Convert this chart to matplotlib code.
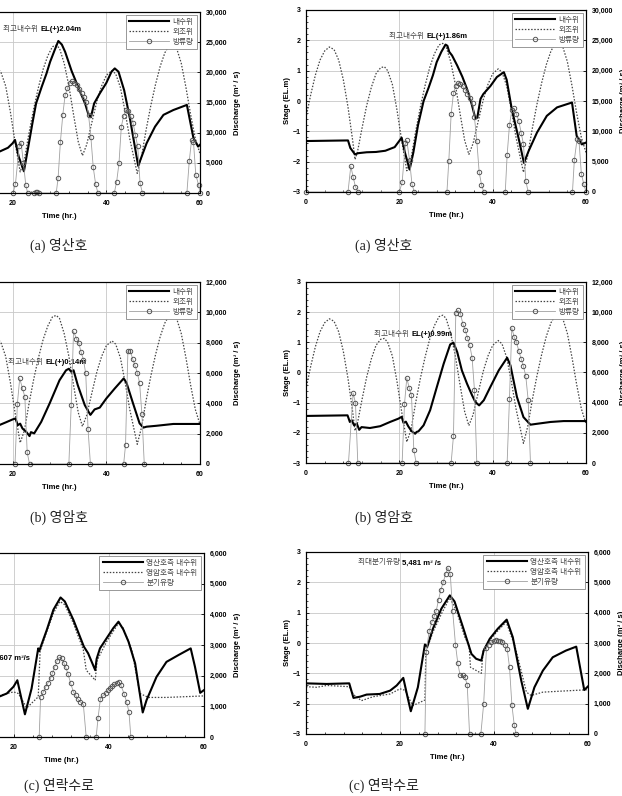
import matplotlib
matplotlib.use("Agg")
import matplotlib.pyplot as plt
from matplotlib.lines import Line2D
from matplotlib.ticker import MultipleLocator, StrMethodFormatter

plt.rcParams['font.family'] = ['Liberation Sans', 'Noto Sans CJK KR']

W, H = 622, 796

# outer tide (외조위), shared by the (a) and (b) panels
tide_hr = [0, 1, 2, 3, 4, 5, 6, 7, 8, 9, 10, 10.5, 11, 12, 13, 14, 15, 16, 16.8, 17.5,
           18.5, 19.5, 20.5, 21.6, 22.5, 23.5, 24.5, 25.5, 26.5, 27.5, 28.5, 29.3, 30, 31,
           32, 33, 34, 34.9, 35.8, 37, 38, 39, 40, 41.2, 42, 43, 44, 45, 46.6, 47.5, 48.5,
           49.5, 50.5, 51.5, 52.5, 53.5, 54.3, 55, 56, 57, 58, 59, 60]
tide_el = [-0.55, 0.2, 0.85, 1.35, 1.65, 1.78, 1.7, 1.35, 0.7, -0.2, -1.3, -1.93, -1.7, -0.9,
           -0.15, 0.45, 0.9, 1.1, 1.13, 1.0, 0.55, -0.3, -1.3, -2.3, -1.9, -1.0, -0.2, 0.5,
           1.1, 1.55, 1.85, 1.9, 1.8, 1.3, 0.55, -0.4, -1.3, -1.76, -1.4, -0.6, 0.05, 0.55,
           0.9, 1.06, 0.95, 0.5, -0.3, -1.2, -2.35, -1.8, -0.9, -0.1, 0.6, 1.2, 1.65, 1.92,
           1.95, 1.8, 1.3, 0.5, -0.4, -1.2, -1.7]

# (a) 영산호 - right column
ra_hr = [0, 9, 9.5, 10.5, 11.2, 13, 15, 17, 19, 20.5, 21.2, 22.2, 23, 24, 25.2, 26.3, 27.2, 28,
         29, 29.9, 30.3, 30.7, 31.3, 32.4, 33.5, 34.5, 35.5, 36.3, 36.7, 37.4, 38, 39.5, 40.9,
         42.4, 43, 44.1, 45.6, 46.7, 47.7, 49.5, 51.6, 53.8, 56.6, 57, 58, 59.1, 60]
ra_el = [-1.32, -1.3, -1.55, -1.76, -1.72, -1.69, -1.68, -1.64, -1.52, -1.21, -1.7, -2.26, -1.7,
         -0.8, 0.0, 0.45, 0.85, 1.28, 1.62, 1.86, 1.82, 1.62, 1.5, 1.17, 0.8, 0.4, -0.1, -0.58,
         -0.55, 0.07, 0.23, 0.49, 0.79, 0.95, 0.7, -0.27, -1.26, -2.04, -1.65, -1.04, -0.49,
         -0.21, -0.07, -0.05, -1.15, -1.43, -1.37]
ra_q_hr = [0, 9, 9.6, 10.1, 10.6, 11.2, 20, 20.6, 21.3, 21.6, 22.2, 22.7, 23.2, 30.2, 30.6, 31.1,
           31.6, 32.1, 32.6, 33.1, 33.6, 34.1, 34.6, 35.2, 35.7, 36.1, 36.6, 37.1, 37.6, 38.1,
           42.7, 43.1, 43.6, 44.1, 44.6, 45.1, 45.6, 46.1, 46.6, 47.1, 47.6, 57.1, 57.5, 58.1,
           58.5, 59, 59.5, 60]
ra_q = [0, 0, 4260, 2490, 830, 0, 0, 1600, 8000, 8500, 5200, 1330, 0, 0, 5090, 12840, 16270,
        17550, 17990, 17820, 17440, 16880, 16160, 15550, 14670, 12290, 8410, 3320, 1220, 0, 0,
        6090, 11010, 13500, 13780, 12840, 11730, 9800, 7860, 1880, 0, 0, 5260, 8800, 8410, 3040,
        1380, 0]

# (a) 영산호 - left column
la_hr = [16, 17.3, 19, 20, 20.5, 21.3, 22.4, 23.3, 24.2, 25, 26.2, 27.2, 28, 29, 29.75, 30.5,
         31.2, 32.6, 34.4, 35.5, 36.2, 36.7, 37.4, 38.6, 40, 41.1, 41.8, 42.6, 43.8, 45.1, 46.8,
         48.6, 50.4, 52.2, 54.3, 57.2, 58.6, 59.6, 60]
la_el = [-1.66, -1.62, -1.5, -1.35, -1.24, -1.8, -2.28, -1.5, -0.7, -0.03, 0.52, 0.95, 1.35,
         1.75, 2.04, 1.92, 1.68, 1.04, 0.36, -0.05, -0.41, -0.49, -0.03, 0.3, 0.65, 1.02, 1.13,
         1.02, 0.41, -0.58, -2.1, -1.35, -0.8, -0.41, -0.25, -0.08, -1.18, -1.46, -1.4]
la_q_hr = [20.1, 20.6, 21.4, 21.8, 22.3, 22.8, 23.2, 24.6, 25.0, 25.3, 25.7, 29.3, 29.7, 30.2,
           30.7, 31.2, 31.7, 32.2, 32.7, 33.2, 33.7, 34.2, 34.7, 35.2, 35.7, 36.2, 36.7, 37.2,
           37.7, 38.2, 41.7, 42.2, 42.7, 43.2, 43.7, 44.2, 44.7, 45.2, 45.7, 46.2, 46.7, 47.2,
           47.7, 57.2, 57.7, 58.2, 58.6, 59.1, 59.7, 60]
la_q = [0, 1540, 7870, 8370, 4950, 1320, 0, 0, 150, 200, 0, 0, 2480, 8530, 12940, 16240, 17340,
        18280, 18550, 18170, 17890, 17230, 16520, 15960, 15140, 12940, 9250, 4290, 1540, 0, 0,
        1870, 4900, 11010, 12770, 13760, 13600, 12770, 11670, 9630, 7710, 1650, 0, 0, 5230,
        8810, 8530, 3030, 1320, 0]

# (b) 영암호 - right column
rb_hr = [0, 8.9, 9.4, 9.8, 10.3, 10.9, 11.4, 11.9, 13.7, 15.9, 18, 19.8, 20.5, 20.9, 21.4, 21.9,
         22.6, 23.4, 23.7, 24.1, 25.2, 26.6, 28, 29.5, 30.9, 31.6, 32.4, 33.4, 34.5, 35.6, 36.3,
         37.1, 38.1, 39.5, 41.3, 43.1, 43.8, 45.2, 46.6, 48.1, 49.5, 52.4, 55.2, 60]
rb_el = [-1.44, -1.42, -1.64, -1.58, -1.75, -1.7, -1.9, -1.81, -1.84, -1.78, -1.64, -1.53, -1.47,
         -1.67, -1.63, -1.78, -1.94, -2.03, -1.97, -1.95, -1.75, -1.25, -0.5, 0.29, 0.93, 0.99,
         0.68, 0.07, -0.37, -0.76, -0.98, -1.09, -0.92, -0.48, 0.07, 0.49, 0.24, -0.81, -1.48,
         -1.73, -1.7, -1.64, -1.61, -1.61]
rb_q_hr = [9.1, 10.1, 10.6, 11.1, 20.6, 21.1, 21.6, 22.1, 22.6, 23.1, 23.6, 31.1, 31.6, 32.1,
           32.6, 33.1, 33.6, 34.1, 34.6, 35.1, 35.6, 36.1, 36.6, 43.1, 43.6, 44.1, 44.6, 45.1,
           45.6, 46.1, 46.6, 47.1, 47.6, 48.1]
rb_q = [0, 4640, 3980, 0, 0, 3890, 5640, 4990, 4490, 880, 0, 0, 1790, 9970, 10120, 9900, 9240,
        8840, 8310, 7800, 6960, 4820, 0, 0, 4270, 8970, 8350, 8020, 7430, 6920, 6410, 5750,
        4200, 0]

# (b) 영암호 - left column
lb_hr = [16, 17.1, 18.5, 20, 20.6, 21.1, 21.6, 22.1, 22.9, 23.6, 23.9, 24.6, 26.1, 27.9, 30,
         31.4, 32, 32.5, 33, 33.9, 35.4, 36.4, 36.6, 37.5, 38.6, 40, 41.8, 43.7, 44.3, 45.7,
         47.1, 47.9, 48.6, 50.7, 54.3, 60]
lb_el = [-1.75, -1.72, -1.63, -1.53, -1.5, -1.72, -1.67, -1.83, -1.94, -2.08, -1.95, -1.99,
         -1.61, -1.0, -0.24, 0.09, 0.14, 0.04, 0.09, -0.4, -1.06, -1.33, -1.38, -1.2, -1.14,
         -0.84, -0.51, -0.18, -0.32, -1.0, -1.66, -1.8, -1.77, -1.74, -1.68, -1.68]
lb_q_hr = [20.5, 21.0, 21.5, 22.1, 22.6, 23.1, 23.6, 32.0, 32.5, 33.0, 33.6, 34.1, 34.6, 35.1,
           35.6, 36.1, 36.6, 43.7, 44.1, 44.6, 45.1, 45.6, 46.1, 46.6, 47.1, 47.6, 48.1]
lb_q = [0, 3950, 5640, 4980, 4430, 770, 0, 0, 3880, 8750, 8270, 7990, 7390, 6890, 5970, 2280,
        0, 0, 1250, 7440, 7460, 6950, 6520, 6030, 5350, 3270, 0]

# (c) 연락수로 - right column
rc_ys_hr = [0, 4.4, 9.2, 10.1, 11.5, 12.9, 15.7, 17.9, 19.3, 20.7, 21.6, 22.3, 23.8, 25.3, 25.8,
            27, 28.8, 30.6, 31.6, 33.4, 35.2, 36.2, 37.3, 37.8, 39.1, 40.8, 42.7, 44, 45.8,
            47.2, 48.6, 50.4, 52.5, 55.3, 57.5, 59.2, 60]
rc_ys_el = [-1.33, -1.35, -1.33, -1.81, -1.77, -1.7, -1.68, -1.57, -1.4, -1.15, -1.78, -2.25,
            -1.46, -0.05, -0.12, 0.47, 1.13, 1.57, 1.37, 0.52, -0.36, -0.52, -0.58, -0.25, 0.14,
            0.47, 0.77, 0.19, -1.24, -2.17, -1.46, -0.91, -0.47, -0.25, -0.12, -1.55, -1.43]
rc_ya_hr = [0, 2.3, 4.4, 9.2, 10.1, 11.8, 14.3, 17.9, 20, 21.1, 22.5, 22.8, 25.3, 25.5, 27, 29,
            30.6, 32, 33.8, 34.7, 35, 37.3, 37.7, 39.1, 40.8, 42.6, 44.4, 45.1, 46.9, 47.9,
            50.4, 53.9, 60]
rc_ya_el = [-1.44, -1.46, -1.4, -1.44, -1.7, -1.9, -1.77, -1.68, -1.51, -1.56, -2.01, -2.06,
            -1.88, -0.3, 0.36, 1.02, 1.49, 1.07, 0.19, -0.08, -0.8, -1.0, -0.25, 0.1, 0.4, 0.69,
            -0.08, -0.49, -1.62, -1.73, -1.62, -1.59, -1.54]
rc_q_hr = [25.3, 25.6, 26.2, 26.8, 27.3, 27.7, 28.2, 28.7, 29.2, 29.7, 30.2, 30.7, 31.2, 31.8,
           32.3, 32.8, 33.3, 33.8, 34.3, 34.8, 37.2, 37.8, 38.4, 38.9, 39.4, 39.9, 40.4, 40.8,
           41.3, 41.8, 42.3, 42.8, 43.3, 43.8, 44.3, 44.7]
rc_q = [0, 2700, 3390, 3690, 3880, 4050, 4430, 4760, 5000, 5280, 5480, 5260, 4070, 2950, 2330,
        1930, 1930, 1870, 1630, 0, 0, 990, 2840, 2950, 3030, 3080, 3100, 3080, 3060, 3030, 2950,
        2810, 2200, 970, 300, 0]

# (c) 연락수로 - left column
lc_ys_hr = [16, 17.1, 18.5, 19.9, 20.7, 22.3, 23.7, 25.1, 25.3, 26.9, 28.3, 29.8, 30.7, 32.5,
            34.7, 35.6, 37.1, 37.4, 38.1, 39.5, 40.9, 42, 43, 44.1, 45.5, 47.1, 47.9, 50, 52.1,
            54.6, 57.2, 58.1, 59.2, 60]
lc_ys_el = [-1.7, -1.67, -1.58, -1.36, -1.15, -2.26, -1.42, -0.11, -0.2, 0.49, 1.15, 1.55, 1.42,
            0.82, -0.05, -0.27, -0.82, -0.45, -0.11, 0.22, 0.55, 0.76, 0.51, 0.11, -0.6, -2.2,
            -1.8, -1.04, -0.55, -0.33, -0.11, -0.71, -1.56, -1.47]
lc_ya_hr = [16, 19.9, 20.9, 22.7, 25.1, 25.5, 26.9, 28.3, 29.7, 30.7, 32.5, 34.6, 35.2, 37.1,
            37.5, 39.5, 42, 43, 44.8, 46.5, 48.3, 52.1, 60]
lc_ya_el = [-1.68, -1.53, -1.58, -2.05, -1.69, -0.2, 0.44, 1.04, 1.42, 1.31, 0.71, -0.16, -0.82,
            -1.15, -0.5, 0.11, 0.71, 0.55, -0.16, -1.58, -1.71, -1.71, -1.66]
lc_q_hr = [25.3, 25.6, 26.2, 26.7, 27.2, 27.7, 28.1, 28.6, 29.1, 29.5, 30.0, 30.5, 30.9, 31.4,
           31.9, 32.5, 33.0, 33.4, 33.9, 34.6, 35.2, 37.3, 37.7, 38.2, 38.8, 39.3, 39.7, 40.2,
           40.7, 41.1, 41.6, 42.1, 42.5, 43.2, 43.7, 44.2, 44.6]
lc_q = [0, 1310, 1470, 1640, 1770, 1910, 2090, 2290, 2490, 2600, 2560, 2420, 2270, 2040, 1770,
        1470, 1360, 1250, 1150, 1060, 0, 0, 630, 1250, 1360, 1420, 1530, 1610, 1660, 1720, 1770,
        1800, 1690, 1400, 1150, 820, 0]

labels_ab = ['내수위', '외조위', '방류량']
labels_c = ['영산호측 내수위', '영암호측 내수위', '분기유량']

DOT = (0, (1.2, 1.3))


def px_rect(left, top, right, bottom):
    # pixel box (from top-left of the image) -> figure fraction
    return [left / W, 1 - bottom / H, (right - left) / W, (bottom - top) / H]


def draw_panel(fig, rect, solid, dotted, q, q_max, q_step, labels, note):
    ax = fig.add_axes(rect)
    ax2 = ax.twinx()

    ax.plot(dotted[0], dotted[1], color='#444444', lw=0.9, ls=DOT)
    ax.plot(solid[0], solid[1], color='black', lw=1.5)
    ax2.plot(q[0], q[1], color='#a0a0a0', lw=0.6, marker='o', ms=3.2,
             mfc='none', mec='#555555', mew=0.7, clip_on=False)

    ax.set_xlim(0, 60)
    ax.set_ylim(-3, 3)
    ax2.set_ylim(0, q_max)
    ax.set_xticks([0, 20, 40, 60])
    ax.set_yticks(range(-3, 4))
    ax2.set_yticks(range(0, q_max + 1, q_step))
    ax2.yaxis.set_major_formatter(StrMethodFormatter('{x:,.0f}'))
    ax.xaxis.set_minor_locator(MultipleLocator(4))
    ax.yaxis.set_minor_locator(MultipleLocator(0.2))

    ax.grid(True, color='#c8c8c8', lw=0.6)
    ax.set_axisbelow(True)
    for a in (ax, ax2):
        a.tick_params(which='major', direction='in', length=2, width=0.6, labelsize=5)
        a.tick_params(which='minor', direction='in', length=1.5, width=0.5)
        for s in a.spines.values():
            s.set_linewidth(0.8)
    ax.tick_params(axis='x', pad=5)
    ax.tick_params(axis='y', pad=4)
    ax2.tick_params(axis='y', pad=4)
    plt.setp(ax.get_xticklabels() + ax.get_yticklabels() + ax2.get_yticklabels(),
             fontweight='bold')

    ax.set_xlabel('Time (hr.)', fontsize=5.5, fontweight='bold', labelpad=4.5)
    ax.set_ylabel('Stage (EL.m)', fontsize=5.5, fontweight='bold', labelpad=1)
    ax2.set_ylabel('Discharge (m³ / s)', fontsize=5.5, fontweight='bold', labelpad=5)

    # peak annotation: korean part normal, number part bold
    nx, ny, kor, num = note
    ax.text(nx, ny, kor + ' ', fontsize=5.5, color='#444444', ha='right', va='center')
    ax.text(nx, ny, num, fontsize=5.5, fontweight='bold', ha='left', va='center')

    handles = [Line2D([], [], color='black', lw=1.5),
               Line2D([], [], color='#444444', lw=0.9, ls=DOT),
               Line2D([], [], color='#a0a0a0', lw=0.6, marker='o', ms=3.2,
                      mfc='none', mec='#555555', mew=0.7)]
    leg = ax2.legend(handles, labels, loc='upper right', bbox_to_anchor=(1, 1),
                     fontsize=5.5, frameon=True, fancybox=False, edgecolor='#888888',
                     framealpha=1, borderaxespad=0.4, handlelength=5.2, handletextpad=0.5,
                     labelspacing=0.35, borderpad=0.45, labelcolor='#444444')
    leg.get_frame().set_linewidth(0.6)
    return ax, ax2


fig = plt.figure(figsize=(W / 100, H / 100), dpi=100)

# (a) 영산호
draw_panel(fig, px_rect(-81, 12, 200, 193), (la_hr, la_el), (tide_hr, tide_el),
           (la_q_hr, la_q), 30000, 5000, labels_ab, (25.9, 2.42, '최고내수위', 'EL(+)2.04m'))
draw_panel(fig, px_rect(306, 10, 586, 192), (ra_hr, ra_el), (tide_hr, tide_el),
           (ra_q_hr, ra_q), 30000, 5000, labels_ab, (25.8, 2.14, '최고내수위', 'EL(+)1.86m'))

# (b) 영암호
draw_panel(fig, px_rect(-81, 282, 200, 464), (lb_hr, lb_el), (tide_hr, tide_el),
           (lb_q_hr, lb_q), 12000, 2000, labels_ab, (27.0, 0.36, '최고내수위', 'EL(+)0.14m'))
draw_panel(fig, px_rect(306, 282, 586, 463), (rb_hr, rb_el), (tide_hr, tide_el),
           (rb_q_hr, rb_q), 12000, 2000, labels_ab, (22.6, 1.25, '최고내수위', 'EL(+)0.99m'))

# (c) 연락수로
draw_panel(fig, px_rect(-81, 553, 204, 737), (lc_ys_hr, lc_ys_el), (lc_ya_hr, lc_ya_el),
           (lc_q_hr, lc_q), 6000, 1000, labels_c, (15.6, -0.44, '최대분기유량', '2,607 m³/s'))
draw_panel(fig, px_rect(306, 552, 588, 734), (rc_ys_hr, rc_ys_el), (rc_ya_hr, rc_ya_el),
           (rc_q_hr, rc_q), 6000, 1000, labels_c, (20.4, 2.64, '최대분기유량', '5,481 m³ /s'))

# captions under each panel
cap_font = ['Liberation Serif', 'Noto Sans CJK KR']
for y_px, cap in [(245, '(a) 영산호'), (517, '(b) 영암호'), (785, '(c) 연락수로')]:
    for x_px in (59, 384):
        fig.text(x_px / W, 1 - y_px / H, cap, family=cap_font, fontsize=10,
                 color='#222222', ha='center', va='center')

fig.savefig('out.png', dpi=100)
